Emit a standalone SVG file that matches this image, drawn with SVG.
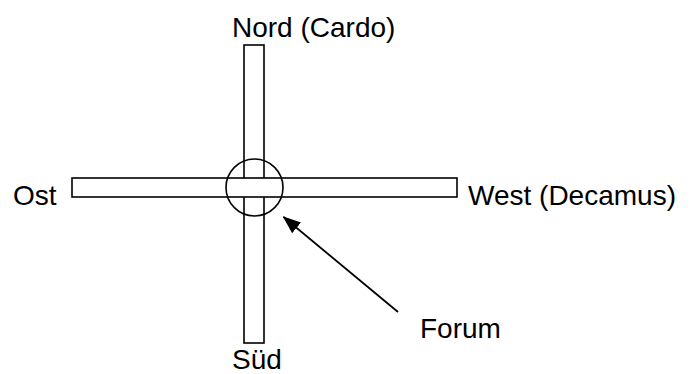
<svg xmlns="http://www.w3.org/2000/svg" width="691" height="374" viewBox="0 0 691 374">
  <style>
    .road { fill: #ffffff; stroke: #000000; stroke-width: 1.6; }
    .ring { fill: none; stroke: #000000; stroke-width: 1.6; }
    .lbl { font-family: "Liberation Sans", Arial, sans-serif; font-size: 28px; fill: #000000; }
    .conn { stroke: #000000; stroke-width: 1.8; fill: none; }
  </style>
  <defs>
    <marker id="ahead" viewBox="0 0 18 14" refX="17" refY="7" markerWidth="18" markerHeight="14" orient="auto" markerUnits="userSpaceOnUse">
      <path d="M0,0 L18,7 L0,14 Z" fill="#000000"/>
    </marker>
  </defs>
  <rect width="691" height="374" fill="#ffffff"/>
  <g id="cardo">
    <rect class="road" x="244" y="45" width="20" height="298"/>
  </g>
  <g id="decamus">
    <rect class="road" x="72" y="178" width="385" height="19"/>
  </g>
  <g id="forum">
    <circle class="ring" cx="254.5" cy="187.5" r="28.5"/>
  </g>
  <g id="connectors">
    <line class="conn" x1="398" y1="312" x2="283.5" y2="217" marker-end="url(#ahead)"/>
  </g>
  <g id="labels">
    <text class="lbl" x="232" y="37">Nord (Cardo)</text>
    <text class="lbl" x="13" y="205">Ost</text>
    <text class="lbl" x="468" y="205">West (Decamus)</text>
    <text class="lbl" x="232" y="369">Süd</text>
    <text class="lbl" x="420" y="338">Forum</text>
  </g>
</svg>
